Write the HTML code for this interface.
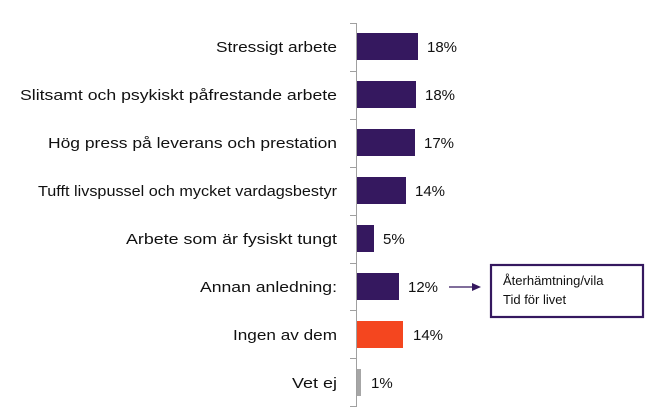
<!DOCTYPE html>
<html><head><meta charset="utf-8"><style>html,body{margin:0;padding:0;background:#fff}svg{display:block}text{font-family:"Liberation Sans",sans-serif;fill:#111}</style></head>
<body>
<svg width="661" height="414" viewBox="0 0 661 414">
<g stroke="#a0a0a0" stroke-width="1">
<line x1="356.5" y1="23" x2="356.5" y2="407"/>
<line x1="350" y1="23.5" x2="356" y2="23.5"/>
<line x1="350" y1="71.5" x2="356" y2="71.5"/>
<line x1="350" y1="119.5" x2="356" y2="119.5"/>
<line x1="350" y1="167.5" x2="356" y2="167.5"/>
<line x1="350" y1="215.5" x2="356" y2="215.5"/>
<line x1="350" y1="263.5" x2="356" y2="263.5"/>
<line x1="350" y1="310.5" x2="356" y2="310.5"/>
<line x1="350" y1="358.5" x2="356" y2="358.5"/>
<line x1="350" y1="406.5" x2="356" y2="406.5"/>
</g>
<g fill="#35185f">
<rect x="357" y="33" width="61" height="27"/>
<rect x="357" y="81" width="59" height="27"/>
<rect x="357" y="129" width="58" height="27"/>
<rect x="357" y="177" width="49" height="27"/>
<rect x="357" y="225" width="17" height="27"/>
<rect x="357" y="273" width="42" height="27"/>
</g>
<rect x="357" y="321" width="46" height="27" fill="#f4461f"/>
<rect x="357" y="369" width="4" height="27" fill="#a6a6a6"/>
<g font-size="15" text-anchor="end">
<text x="337" y="52" textLength="121" lengthAdjust="spacingAndGlyphs">Stressigt arbete</text>
<text x="337" y="100" textLength="317" lengthAdjust="spacingAndGlyphs">Slitsamt och psykiskt påfrestande arbete</text>
<text x="337" y="148" textLength="289" lengthAdjust="spacingAndGlyphs">Hög press på leverans och prestation</text>
<text x="337" y="196" textLength="299" lengthAdjust="spacingAndGlyphs">Tufft livspussel och mycket vardagsbestyr</text>
<text x="337" y="244" textLength="211" lengthAdjust="spacingAndGlyphs">Arbete som är fysiskt tungt</text>
<text x="337" y="292" textLength="137" lengthAdjust="spacingAndGlyphs">Annan anledning:</text>
<text x="337" y="340" textLength="104" lengthAdjust="spacingAndGlyphs">Ingen av dem</text>
<text x="337" y="388" textLength="45" lengthAdjust="spacingAndGlyphs">Vet ej</text>
</g>
<g font-size="15">
<text x="427" y="52">18%</text>
<text x="425" y="100">18%</text>
<text x="424" y="148">17%</text>
<text x="415" y="196">14%</text>
<text x="383" y="244">5%</text>
<text x="408" y="292">12%</text>
<text x="413" y="340">14%</text>
<text x="371" y="388">1%</text>
</g>
<line x1="449" y1="287" x2="474" y2="287" stroke="#35185f" stroke-width="1.3"/>
<polygon points="481,287 472,283 472,291" fill="#35185f"/>
<rect x="491" y="265" width="152" height="52" fill="#fff" stroke="#35185f" stroke-width="2.2"/>
<g font-size="13">
<text x="503" y="285">Återhämtning/vila</text>
<text x="503" y="304">Tid för livet</text>
</g>
</svg>
</body></html>
